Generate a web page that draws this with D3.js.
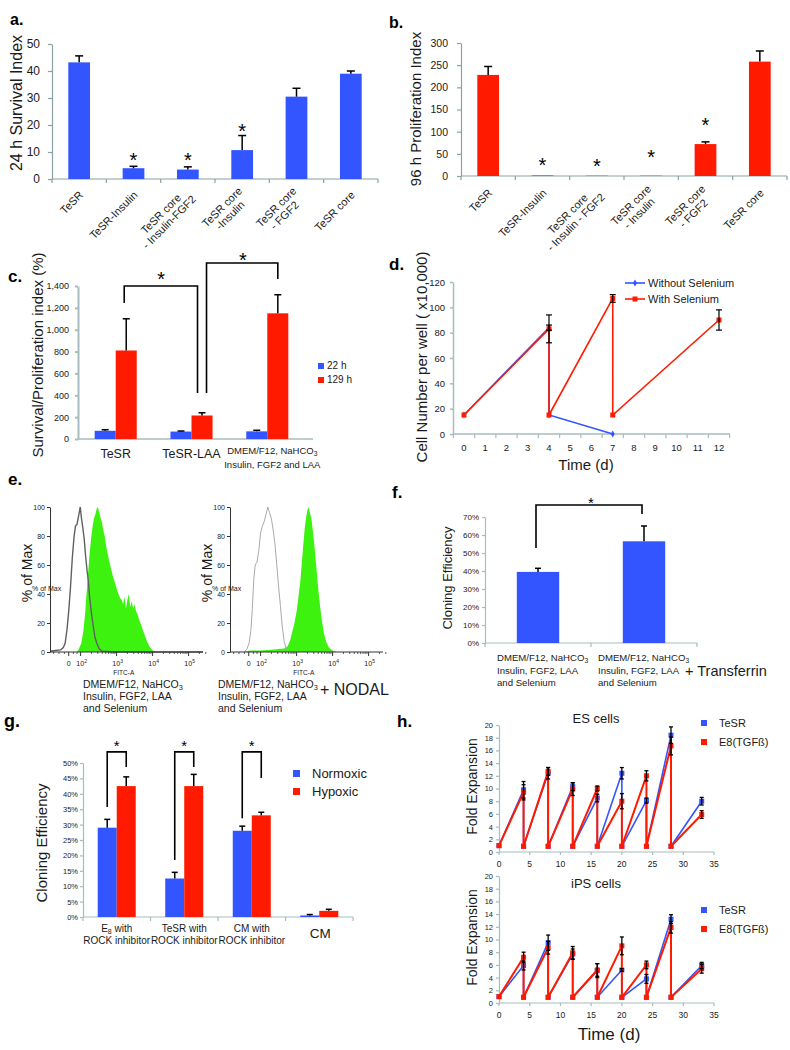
<!DOCTYPE html>
<html>
<head>
<meta charset="utf-8">
<script src="https://cdnjs.cloudflare.com/ajax/libs/d3/7.8.5/d3.min.js"></script>
<style>
html,body{margin:0;padding:0;background:#fff;}
svg{display:block;font-family:"Liberation Sans",Arial,Helvetica,sans-serif;}
</style>
</head>
<body>
<svg id="chart" width="790" height="1050"></svg>
<script>
// ================= DATA =================
// Panel a
const aCategories = [["TeSR"],["TeSR-Insulin"],["TeSR core","- Insulin-FGF2"],["TeSR core","-Insulin"],["TeSR core","- FGF2"],["TeSR core"]];
const aValues = [43.2, 4.0, 3.5, 10.7, 30.5, 39.0];
const aErrors = [2.4, 0.7, 1.0, 5.4, 3.1, 1.0];
const aStarLevels = [null, 8.9, 8.9, 19.5, null, null];
const aTicks = [0, 10, 20, 30, 40, 50];

// Panel b
const bCategories = [["TeSR"],["TeSR-Insulin"],["TeSR core","- Insulin - FGF2"],["TeSR core","- Insulin"],["TeSR core","- FGF2"],["TeSR core"]];
const bValues = [228, 1.2, 0.6, 0.6, 72, 258];
const bErrors = [19, 0, 0, 0, 5, 24];
const bStarLevels = [null, 36, 34, 54, 126, null];
const bTicks = [0, 50, 100, 150, 200, 250, 300];

// Panel c
const cGroups = ["TeSR", "TeSR-LAA", "DMEM/F12, NaHCO_{3}|Insulin, FGF2 and LAA"];
const cSeries = ["22 h", "129 h"];
const c22h = [75, 68, 70];
const c22hErr = [10, 5, 10];
const c129h = [810, 215, 1150];
const c129hErr = [290, 25, 170];
const cTicks = [0, 200, 400, 600, 800, 1000, 1200, 1400];

// Panel d
const dDaysWithout = [0, 4, 4, 7];
const dWithout = [15, 84, 15, 0];
const dWithoutErr = [0, 2, 0, 0];
const dDaysWith = [0, 4, 4, 7, 7, 12];
const dWith = [15, 83, 15, 107, 15, 90];
const dWithErr = [0, 11, 0, 3, 0, 8];
const dXTicks = [0,1,2,3,4,5,6,7,8,9,10,11,12];
const dYTicks = [0, 20, 40, 60, 80, 100, 120];

// Panel e (position on biexponential FITC-A axis in decades, % of max)
const eLeftControl = [[1.15,0.5],[1.3,1],[1.45,1.5],[1.52,3],[1.57,6],[1.62,15],[1.67,28],[1.72,45],[1.77,65],[1.82,80],[1.86,87],[1.9,88],[1.93,92],[1.96,96],[1.99,100],[2.02,93],[2.06,86],[2.1,78],[2.14,66],[2.18,56],[2.21,50],[2.25,38],[2.3,27],[2.35,18],[2.4,10],[2.45,6],[2.52,2],[2.6,0.5],[3.0,0],[5.4,0]];
const eLeftStain = [[1.9,0],[1.95,2],[2.02,6],[2.08,15],[2.13,28],[2.17,42],[2.21,55],[2.25,68],[2.29,78],[2.33,86],[2.37,92],[2.41,95],[2.45,99],[2.48,100],[2.51,97],[2.55,93],[2.59,90],[2.63,84],[2.67,80],[2.71,73],[2.75,68],[2.8,62],[2.85,57],[2.9,52],[2.95,48],[3.0,44],[3.05,40],[3.1,37],[3.14,36],[3.18,33],[3.22,38],[3.26,30],[3.3,36],[3.34,40],[3.38,31],[3.42,35],[3.46,30],[3.5,33],[3.54,28],[3.58,26],[3.63,22],[3.68,19],[3.73,15],[3.79,11],[3.85,7],[3.91,4],[3.98,1.5],[4.05,0]];
const eRightControl = [[1.55,0],[1.62,2],[1.68,6],[1.73,15],[1.77,30],[1.81,50],[1.85,60],[1.9,62],[1.95,70],[2.0,82],[2.05,87],[2.1,90],[2.15,95],[2.2,100],[2.25,96],[2.3,92],[2.35,84],[2.4,74],[2.45,60],[2.5,45],[2.55,32],[2.6,18],[2.65,8],[2.7,3],[2.76,0]];
const eRightStain = [[1.55,0],[1.7,1],[2.0,1],[2.3,1.5],[2.5,2],[2.65,2.5],[2.75,4],[2.82,8],[2.88,14],[2.94,20],[3.0,28],[3.05,38],[3.1,48],[3.14,60],[3.18,72],[3.22,84],[3.26,92],[3.3,98],[3.33,100],[3.37,96],[3.41,92],[3.45,84],[3.5,72],[3.55,58],[3.6,44],[3.65,32],[3.7,22],[3.76,13],[3.82,7],[3.9,3],[4.0,1],[4.1,0]];
const eYTicks = [0, 20, 40, 60, 80, 100];
const eXTickPos = [1.67, 2, 3, 4, 5];
const eXTickLabels = ["0", "10^{2}", "10^{3}", "10^{4}", "10^{5}"];

// Panel f
const fCategories = [["DMEM/F12, NaHCO_{3}","Insulin, FGF2, LAA","and Selenium"],["DMEM/F12, NaHCO_{3}","Insulin, FGF2, LAA","and Selenium"]];
const fValues = [39.5, 56.5];
const fErrors = [2, 8.5];
const fTicks = [0, 10, 20, 30, 40, 50, 60, 70];

// Panel g
const gGroups = [["E_{8} with","ROCK inhibitor"],["TeSR with","ROCK inhibitor"],["CM with","ROCK inhibitor"],["CM"]];
const gSeries = ["Normoxic", "Hypoxic"];
const gNormoxic = [29, 12.5, 28, 0.5];
const gNormoxicErr = [2.7, 2, 1.5, 0.3];
const gHypoxic = [42.5, 42.5, 33, 2];
const gHypoxicErr = [3, 3.8, 1, 0.5];
const gTicks = [0, 5, 10, 15, 20, 25, 30, 35, 40, 45, 50];

// Panel h
const hDays = [0,4,4,8,8,12,12,16,16,20,20,24,24,28,28,33];
const esTeSR = [1,9.8,0.9,12.4,0.9,10.3,0.9,8.5,0.9,12.4,0.9,8.1,0.9,18.4,0.9,8];
const esTeSRErr = [0,1.3,0,0.9,0,0.6,0,0.6,0,0.9,0,0.4,0,1.3,0,0.6];
const esE8 = [1,9.4,0.9,12.7,0.9,9.9,0.9,10,0.9,8,0.9,12,0.9,16.7,0.9,5.9];
const esE8Err = [0,1.2,0,0.6,0,1.0,0,0.4,0,1.2,0,0.8,0,1.4,0,0.6];
const ipsTeSR = [1,5.9,0.9,9.5,0.9,7.7,0.9,5.1,0.9,5.2,0.9,3.8,0.9,13.2,0.9,5.9];
const ipsTeSRErr = [0,0.7,0,1.2,0,0.8,0,1.1,0,0.2,0,0.7,0,0.7,0,0.5];
const ipsE8 = [1,7.2,0.9,8.7,0.9,7.9,0.9,5.2,0.9,9.0,0.9,6.0,0.9,11.9,0.9,5.4];
const ipsE8Err = [0,0.8,0,1.0,0,1.0,0,1.0,0,1.4,0,0.6,0,0.9,0,0.7];
const hYTicks = [0,2,4,6,8,10,12,14,16,18,20];
const hXTicks = [0,5,10,15,20,25,30,35];

// ================= DRAWING =================
const FONT = '"Liberation Sans", Arial, Helvetica, sans-serif';
const BLUE = "#3355ff", RED = "#ff1a00", GREEN = "#3df20f";
const AX = "#8aa2a2", TXT = "#1a1a1a";
const svg = d3.select("#chart");
svg.append("rect").attr("width", 790).attr("height", 1050).attr("fill", "#fff");

function rich(g, str, x, y, fs, anchor) {
  const t = g.append("text").attr("x", x).attr("y", y).attr("font-size", fs).attr("fill", TXT);
  if (anchor) t.attr("text-anchor", anchor);
  const re = /([_^])\{([^}]*)\}/g;
  let last = 0, m, shift = 0;
  while ((m = re.exec(str))) {
    if (m.index > last) { t.append("tspan").attr("dy", shift ? -shift : null).text(str.slice(last, m.index)); shift = 0; }
    const s = m[1] === "_" ? fs * 0.22 : -fs * 0.4;
    t.append("tspan").attr("font-size", fs * 0.7).attr("dy", s - shift).text(m[2]);
    shift = s;
    last = re.lastIndex;
  }
  if (last < str.length) t.append("tspan").attr("dy", shift ? -shift : null).text(str.slice(last));
  return t;
}
function letter(t, x, y, fs) {
  svg.append("text").attr("x", x).attr("y", y).attr("font-size", fs || 17).attr("font-weight", "bold").attr("fill", "#000").text(t);
}
function yLabel(g, s, x, y, fs) {
  g.append("text").attr("transform", `translate(${x},${y}) rotate(-90)`).attr("text-anchor", "middle")
    .attr("dy", "0.35em").attr("font-size", fs).attr("fill", TXT).text(s);
}
function star(g, x, y, fs) {
  g.append("text").attr("x", x).attr("y", y + 0.58 * fs).attr("text-anchor", "middle").attr("font-size", fs).attr("fill", "#000").text("*");
}
function styleAxis(sel, color, width, fs) {
  sel.attr("font-family", FONT);
  sel.select(".domain").attr("stroke", color).attr("stroke-width", width);
  sel.selectAll(".tick line").attr("stroke", color).attr("stroke-width", width);
  sel.selectAll(".tick text").attr("font-size", fs).attr("fill", TXT);
}
function rotLabel(g, lines, x, y, fs) {
  const grp = g.append("g").attr("transform", `translate(${x},${y}) rotate(-45)`);
  const lh = fs * 1.05;
  const texts = lines.map((l, i) => grp.append("text").attr("font-size", fs).attr("fill", TXT)
    .attr("dy", "0.35em").attr("y", (i - (lines.length - 1) / 2) * lh).attr("text-anchor", "middle").text(l));
  const w = d3.max(texts, t => t.node().getComputedTextLength());
  texts.forEach(t => t.attr("x", -w / 2));
}
function vline(g, x, y1, y2, color, w) {
  g.append("line").attr("x1", x).attr("x2", x).attr("y1", y1).attr("y2", y2).attr("stroke", color).attr("stroke-width", w);
}
function hline(g, x1, x2, y, color, w) {
  g.append("line").attr("x1", x1).attr("x2", x2).attr("y1", y).attr("y2", y).attr("stroke", color).attr("stroke-width", w);
}
function errUp(g, cx, y0, y1, cap) {
  vline(g, cx, y0, y1, "#000", 1.5);
  hline(g, cx - cap, cx + cap, y1, "#000", 1.5);
}
function errBoth(g, cx, yLo, yHi, cap, w) {
  vline(g, cx, yLo, yHi, "#000", w);
  hline(g, cx - cap, cx + cap, yLo, "#000", w);
  hline(g, cx - cap, cx + cap, yHi, "#000", w);
}
function bracket(g, xl, xr, yl, yr, ytop) {
  g.append("path").attr("d", `M${xl},${yl}V${ytop}H${xr}V${yr}`).attr("fill", "none").attr("stroke", "#000").attr("stroke-width", 1.6);
}

// ---------- simple bar panels (a, b) ----------
function barPanel(p) {
  const g = svg.append("g");
  const x = d3.scaleBand().domain(d3.range(p.values.length)).range([p.left, p.right]).paddingInner(0.6).paddingOuter(0.3);
  const y = d3.scaleLinear().domain([0, p.ymax]).range([p.bottom, p.top]);
  const ya = g.append("g").attr("transform", `translate(${p.left},0)`)
    .call(d3.axisLeft(y).tickValues(p.ticks).tickSize(4).tickSizeOuter(0).tickPadding(p.pad));
  styleAxis(ya, p.axisColor, 1.2, p.tickFont);
  hline(g, p.left, p.right, y(0), p.axisColor, 1.2);
  d3.range(p.values.length + 1).forEach(i => vline(g, p.left + i * x.step(), y(0), y(0) + 4, p.axisColor, 1.2));
  g.selectAll(null).data(p.values).join("rect")
    .attr("x", (d, i) => x(i)).attr("y", d => y(d)).attr("width", x.bandwidth())
    .attr("height", d => y(0) - y(d)).attr("fill", p.color);
  p.values.forEach((v, i) => {
    const cx = x(i) + x.bandwidth() / 2;
    if (p.errors[i]) errUp(g, cx, y(v), y(v + p.errors[i]), 4);
    if (p.stars[i] != null) star(g, cx, y(p.stars[i]), 20);
    rotLabel(g, p.categories[i], cx + p.labDx, p.labY, p.catFont);
  });
  yLabel(g, p.ylabel, p.ylabX, p.ylabY, p.ylabFont);
}

barPanel({categories: aCategories, values: aValues, errors: aErrors, stars: aStarLevels, ticks: aTicks, ymax: 50,
  color: BLUE, left: 52, right: 378, top: 44, bottom: 179, tickFont: 12, pad: 8, catFont: 11, labY: 193, labDx: 2,
  ylabel: "24 h Survival Index", ylabX: 16, ylabY: 103, ylabFont: 16, axisColor: AX});
barPanel({categories: bCategories, values: bValues, errors: bErrors, stars: bStarLevels, ticks: bTicks, ymax: 300,
  color: RED, left: 461, right: 787, top: 43, bottom: 176, tickFont: 10.5, pad: 9, catFont: 11, labY: 191, labDx: 2,
  ylabel: "96 h  Proliferation Index", ylabX: 416, ylabY: 109, ylabFont: 15, axisColor: AX});
letter("a.", 10, 25, 16);
letter("b.", 389, 28, 16);

// ---------- Panel c ----------
(function () {
  const g = svg.append("g");
  const left = 78, right = 305, top = 286, bottom = 439;
  const x0 = d3.scaleBand().domain(d3.range(cGroups.length)).range([left, right]).paddingInner(0.445).paddingOuter(0.22);
  const x1 = d3.scaleBand().domain(cSeries).range([0, x0.bandwidth()]);
  const y = d3.scaleLinear().domain([0, 1400]).range([bottom, top]);
  const ya = g.append("g").attr("transform", `translate(${left},0)`)
    .call(d3.axisLeft(y).tickValues(cTicks).tickSize(3).tickSizeOuter(0).tickPadding(6).tickFormat(d3.format(",")));
  styleAxis(ya, "#a7bcbc", 2, 9);
  hline(g, left, right + 8, bottom, "#a7bcbc", 1.5);
  const series = [[c22h, c22hErr, BLUE], [c129h, c129hErr, RED]];
  series.forEach(([vals, errs, col], si) => {
    vals.forEach((v, i) => {
      const bx = x0(i) + x1(cSeries[si]);
      g.append("rect").attr("x", bx).attr("y", y(v)).attr("width", x1.bandwidth()).attr("height", bottom - y(v)).attr("fill", col);
      errUp(g, bx + x1.bandwidth() / 2, y(v), y(v + errs[i]), 3.5);
    });
  });
  // category labels
  cGroups.forEach((lab, i) => {
    const cx = x0(i) + x0.bandwidth() / 2;
    const lines = lab.split("|");
    if (lines.length === 1) rich(g, lab, cx, 458, 12.5, "middle");
    else lines.forEach((l, j) => rich(g, l, cx + 5, 454 + j * 13.5, 9.5, "middle"));
  });
  // legend
  [[BLUE, "22 h", 363], [RED, "129 h", 377]].forEach(([c, t, yy]) => {
    g.append("rect").attr("x", 318).attr("y", yy).attr("width", 6).attr("height", 6).attr("fill", c);
    g.append("text").attr("x", 327).attr("y", yy + 6).attr("font-size", 10).attr("fill", TXT).text(t);
  });
  // significance brackets
  const r1 = x0(0) + x1("129 h") + x1.bandwidth() / 2;
  const r2 = x0(1) + x1("129 h") + x1.bandwidth() / 2;
  const r3 = x0(2) + x1("129 h") + x1.bandwidth() / 2;
  bracket(g, r1 - 2, r2 - 4.5, y(1244), y(421), y(1400));
  bracket(g, r2 + 4.5, r3, y(421), y(1464), y(1610));
  star(g, (r1 + r2) / 2 - 3, y(1510), 20);
  star(g, (r2 + r3) / 2 + 3, y(1680), 20);
  yLabel(g, "Survival/Proliferation index (%)", 38, 355, 15);
  letter("c.", 8, 282, 17);
})();

// ---------- Panel d ----------
(function () {
  const g = svg.append("g");
  const x = d3.scaleLinear().domain([0, 12]).range([464, 719]);
  const y = d3.scaleLinear().domain([0, 120]).range([434, 282]);
  const ya = g.append("g").attr("transform", "translate(453,0)")
    .call(d3.axisLeft(y).tickValues(dYTicks).tickSize(3).tickSizeOuter(0).tickPadding(5));
  styleAxis(ya, "#a7bcbc", 1.5, 9.5);
  hline(g, 453, 730, y(0), "#a7bcbc", 1.5);
  d3.range(-0.5, 12.6, 1).forEach(v => vline(g, x(v), y(0), y(0) + 4, "#a7bcbc", 1.2));
  dXTicks.forEach(v => g.append("text").attr("x", x(v)).attr("y", 451).attr("text-anchor", "middle").attr("font-size", 9.5).attr("fill", TXT).text(v));
  const line = d3.line().x(d => x(d[0])).y(d => y(d[1]));
  const wo = dDaysWithout.map((d, i) => [d, dWithout[i]]);
  const wi = dDaysWith.map((d, i) => [d, dWith[i]]);
  g.append("path").datum(wo).attr("d", line).attr("fill", "none").attr("stroke", BLUE).attr("stroke-width", 1.6);
  g.append("path").datum(wi).attr("d", line).attr("fill", "none").attr("stroke", RED).attr("stroke-width", 1.6);
  wo.forEach(d => g.append("path").attr("d", d3.symbol(d3.symbolDiamond, 14)()).attr("transform", `translate(${x(d[0])},${y(d[1])})`).attr("fill", BLUE));
  wi.forEach(d => g.append("rect").attr("x", x(d[0]) - 2.5).attr("y", y(d[1]) - 2.5).attr("width", 5).attr("height", 5).attr("fill", RED));
  dWithoutErr.forEach((e, i) => { if (e) errBoth(g, x(dDaysWithout[i]), y(dWithout[i] - e), y(dWithout[i] + e), 3, 1.2); });
  dWithErr.forEach((e, i) => { if (e) errBoth(g, x(dDaysWith[i]), y(dWith[i] - e), y(dWith[i] + e), 3, 1.2); });
  // legend
  hline(g, 625, 645, 283, BLUE, 1.6);
  g.append("path").attr("d", d3.symbol(d3.symbolDiamond, 14)()).attr("transform", "translate(635,283)").attr("fill", BLUE);
  g.append("text").attr("x", 648).attr("y", 287).attr("font-size", 11).attr("fill", TXT).text("Without Selenium");
  hline(g, 625, 645, 299, RED, 1.6);
  g.append("rect").attr("x", 632.5).attr("y", 296.5).attr("width", 5).attr("height", 5).attr("fill", RED);
  g.append("text").attr("x", 648).attr("y", 303).attr("font-size", 11).attr("fill", TXT).text("With Selenium");
  g.append("text").attr("x", 586).attr("y", 470).attr("text-anchor", "middle").attr("font-size", 15).attr("fill", TXT).text("Time (d)");
  yLabel(g, "Cell Number per well ( x10,000)", 422, 357, 15);
  letter("d.", 389, 270, 17);
})();

// ---------- Panel e ----------
function flowPanel(ox, ctrl, stain, ctrlColor, ctrlW, textX, extra) {
  const g = svg.append("g");
  const x = d3.scaleLinear().domain([1.15, 5.4]).range([ox, ox + 153]);
  const y = d3.scaleLinear().domain([0, 100]).range([652, 507]);
  g.append("path").datum(stain).attr("d", d3.area().x(d => x(d[0])).y0(y(0)).y1(d => y(d[1]))).attr("fill", GREEN);
  g.append("path").datum(ctrl).attr("d", d3.line().x(d => x(d[0])).y(d => y(d[1]))).attr("fill", "none").attr("stroke", ctrlColor).attr("stroke-width", ctrlW);
  const ya = g.append("g").attr("transform", `translate(${ox},0)`)
    .call(d3.axisLeft(y).tickValues(eYTicks).tickSize(3).tickSizeOuter(0).tickPadding(2));
  styleAxis(ya, "#333", 1, 7);
  hline(g, ox, ox + 153, y(0), "#333", 1);
  eXTickPos.forEach((p, i) => {
    vline(g, x(p), y(0), y(0) + 4, "#333", 1);
    rich(g, eXTickLabels[i], x(p) + (i ? 1 : 0), 666, 7, "middle");
  });
  [1.25, 1.4, 1.55, 1.8, 1.9].forEach(p => vline(g, x(p), y(0), y(0) + 2, "#333", 0.8));
  [2, 3, 4].forEach(d => [2,3,4,5,6,7,8,9].forEach(k => { const p = d + Math.log10(k); vline(g, x(p), y(0), y(0) + 2, "#333", 0.8); }));
  [2,3].forEach(k => vline(g, x(5 + Math.log10(k)), y(0), y(0) + 2, "#333", 0.8));
  g.append("text").attr("x", x(3.2)).attr("y", 675).attr("text-anchor", "middle").attr("font-size", 6.5).attr("fill", TXT).text("FITC-A");
  yLabel(g, "% of Max", ox - 23, 573, 14);
  g.append("text").attr("x", ox - 18).attr("y", 591).attr("font-size", 7).attr("fill", TXT).text("% of Max");
  ["DMEM/F12, NaHCO_{3}", "Insulin, FGF2, LAA", "and Selenium"].forEach((l, i) => rich(g, l, textX, 688 + i * 11.8, 10.5));
  if (extra) g.append("text").attr("x", 320).attr("y", 695).attr("font-size", 16).attr("fill", TXT).text(extra);
}
flowPanel(50, eLeftControl, eLeftStain, "#606060", 1.4, 83, null);
flowPanel(230, eRightControl, eRightStain, "#aaaaaa", 1.0, 218, "+ NODAL");
letter("e.", 8, 485, 17);

// ---------- Panel f ----------
(function () {
  const g = svg.append("g");
  const left = 485, right = 697, top = 517, bottom = 643;
  const x = d3.scaleBand().domain(d3.range(fValues.length)).range([left, right]).paddingInner(0.6).paddingOuter(0.3);
  const y = d3.scaleLinear().domain([0, 70]).range([bottom, top]);
  const ya = g.append("g").attr("transform", `translate(${left},0)`)
    .call(d3.axisLeft(y).tickValues(fTicks).tickSize(3).tickSizeOuter(0).tickPadding(3).tickFormat(d => d + "%"));
  styleAxis(ya, "#a7bcbc", 1.2, 8);
  hline(g, left, right, bottom, "#a7bcbc", 1.2);
  d3.range(fValues.length + 1).forEach(i => vline(g, left + i * x.step(), bottom, bottom + 4, "#a7bcbc", 1.2));
  fValues.forEach((v, i) => {
    g.append("rect").attr("x", x(i)).attr("y", y(v)).attr("width", x.bandwidth()).attr("height", bottom - y(v)).attr("fill", BLUE);
    errUp(g, x(i) + x.bandwidth() / 2, y(v), y(v + fErrors[i]), 3);
  });
  const c0 = x(0) + x.bandwidth() / 2, c1 = x(1) + x.bandwidth() / 2;
  bracket(g, c0 - 2, c1 - 2, y(52.8), y(71.7), y(76.7));
  star(g, (c0 + c1) / 2, y(79.6), 15);
  [497, 598].forEach((tx, i) => fCategories[i].forEach((l, j) => rich(g, l, tx, 661 + j * 12.5, 9.6)));
  g.append("text").attr("x", 685).attr("y", 676).attr("font-size", 14.5).attr("fill", TXT).text("+ Transferrin");
  yLabel(g, "Cloning Efficiency", 447, 578, 13);
  letter("f.", 392, 498, 17);
})();

// ---------- Panel g ----------
(function () {
  const g = svg.append("g");
  const left = 83, right = 353, top = 763, bottom = 917;
  const x0 = d3.scaleBand().domain(d3.range(gGroups.length)).range([left, right]).paddingInner(0.437).paddingOuter(0.218);
  const x1 = d3.scaleBand().domain(gSeries).range([0, x0.bandwidth()]);
  const y = d3.scaleLinear().domain([0, 50]).range([bottom, top]);
  const ya = g.append("g").attr("transform", `translate(${left},0)`)
    .call(d3.axisLeft(y).tickValues(gTicks).tickSize(3).tickSizeOuter(0).tickPadding(2).tickFormat(d => d + "%"));
  styleAxis(ya, "#a7bcbc", 1.2, 7.5);
  hline(g, left, right, bottom, "#a7bcbc", 1.2);
  d3.range(gGroups.length + 1).forEach(i => vline(g, left + i * x0.step(), bottom, bottom + 4, "#a7bcbc", 1.2));
  [[gNormoxic, gNormoxicErr, BLUE], [gHypoxic, gHypoxicErr, RED]].forEach(([vals, errs, col], si) => {
    vals.forEach((v, i) => {
      const bx = x0(i) + x1(gSeries[si]);
      g.append("rect").attr("x", bx).attr("y", y(v)).attr("width", x1.bandwidth()).attr("height", bottom - y(v)).attr("fill", col);
      errUp(g, bx + x1.bandwidth() / 2, y(v), y(v + errs[i]), 3);
    });
  });
  const cN = i => x0(i) + x1("Normoxic") + x1.bandwidth() / 2;
  const cH = i => x0(i) + x1("Hypoxic") + x1.bandwidth() / 2;
  bracket(g, cN(0), cH(0), y(35.7), y(48.7), y(53.6));
  bracket(g, cN(1), cH(1), y(18.5), y(48.7), y(53.6));
  bracket(g, cN(2), cH(2), y(32.1), y(45.1), y(53.6));
  [0, 1, 2].forEach(i => star(g, (cN(i) + cH(i)) / 2, y(56.6), 15));
  gGroups.forEach((lines, i) => {
    const cx = x0(i) + x0.bandwidth() / 2;
    if (lines.length === 1) rich(g, lines[0], cx + 1, 938, 13.5, "middle");
    else lines.forEach((l, j) => rich(g, l, cx + (j === 0 ? 0 : 0), 932 + j * 11.5, 10, "middle"));
  });
  [[BLUE, "Normoxic", 770], [RED, "Hypoxic", 788]].forEach(([c, t, yy]) => {
    g.append("rect").attr("x", 293).attr("y", yy).attr("width", 7).attr("height", 7).attr("fill", c);
    g.append("text").attr("x", 312).attr("y", yy + 8).attr("font-size", 13).attr("fill", TXT).text(t);
  });
  yLabel(g, "Cloning Efficiency", 42, 843, 15);
  letter("g.", 4, 727, 18);
})();

// ---------- Panel h ----------
function expansionPanel(top, bottom, title, titleY, tesr, tesrErr, e8, e8Err, legY, xLabY) {
  const g = svg.append("g");
  const x = d3.scaleLinear().domain([0, 35]).range([499, 714]);
  const y = d3.scaleLinear().domain([0, 20]).range([bottom, top]);
  const ya = g.append("g").attr("transform", "translate(499,0)")
    .call(d3.axisLeft(y).tickValues(hYTicks).tickSize(3).tickSizeOuter(0).tickPadding(3));
  styleAxis(ya, "#a7bcbc", 1.2, 7.5);
  hline(g, 499, 714, bottom, "#a7bcbc", 1.2);
  hXTicks.forEach(v => {
    vline(g, x(v), bottom, bottom + 3, "#a7bcbc", 1.2);
    g.append("text").attr("x", x(v)).attr("y", xLabY).attr("text-anchor", "middle").attr("font-size", 8.5).attr("fill", TXT).text(v);
  });
  const line = d3.line().x(d => x(d[0])).y(d => y(d[1]));
  const s1 = hDays.map((d, i) => [d, tesr[i]]);
  const s2 = hDays.map((d, i) => [d, e8[i]]);
  g.append("path").datum(s1).attr("d", line).attr("fill", "none").attr("stroke", BLUE).attr("stroke-width", 1.6);
  s1.forEach(d => g.append("rect").attr("x", x(d[0]) - 2.5).attr("y", y(d[1]) - 2.5).attr("width", 5).attr("height", 5).attr("fill", BLUE));
  g.append("path").datum(s2).attr("d", line).attr("fill", "none").attr("stroke", RED).attr("stroke-width", 2);
  s2.forEach(d => g.append("rect").attr("x", x(d[0]) - 2.5).attr("y", y(d[1]) - 2.5).attr("width", 5).attr("height", 5).attr("fill", RED));
  tesrErr.forEach((e, i) => { if (e) errBoth(g, x(hDays[i]), y(tesr[i] - e), y(tesr[i] + e), 2, 1.3); });
  e8Err.forEach((e, i) => { if (e) errBoth(g, x(hDays[i]), y(e8[i] - e), y(e8[i] + e), 2, 1.3); });
  g.append("text").attr("x", 596).attr("y", titleY).attr("text-anchor", "middle").attr("font-size", 13).attr("fill", TXT).text(title);
  [[BLUE, "TeSR", legY], [RED, "E8(TGFß)", legY + 19]].forEach(([c, t, yy]) => {
    g.append("rect").attr("x", 701).attr("y", yy - 5).attr("width", 6).attr("height", 6).attr("fill", c);
    g.append("text").attr("x", 719).attr("y", yy + 2).attr("font-size", 11).attr("fill", TXT).text(t);
  });
  yLabel(g, "Fold Expansion", 472, (top + bottom) / 2 - 2, 14);
}
expansionPanel(725, 852, "ES cells", 723, esTeSR, esTeSRErr, esE8, esE8Err, 725, 867);
expansionPanel(876, 1003, "iPS cells", 888, ipsTeSR, ipsTeSRErr, ipsE8, ipsE8Err, 912, 1018);
svg.append("text").attr("x", 609).attr("y", 1040).attr("text-anchor", "middle").attr("font-size", 17).attr("fill", TXT).text("Time (d)");
letter("h.", 397, 727, 17);
</script>
</body>
</html>
